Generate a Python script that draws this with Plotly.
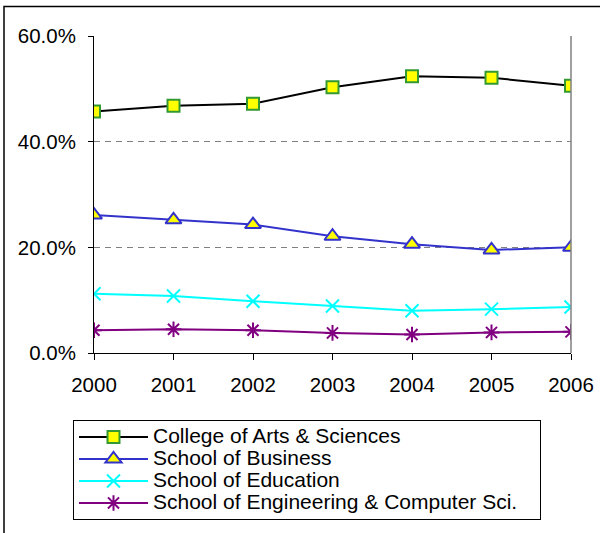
import plotly.graph_objects as go

# ── Datos ─────────────────────────────────────────────────────────────────────

YEARS = ["2000", "2001", "2002", "2003", "2004", "2005", "2006"]

ARTS_SCIENCES = [45.7, 46.8, 47.2, 50.3, 52.4, 52.1, 50.6]
BUSINESS      = [26.1, 25.2, 24.3, 22.1, 20.6, 19.5, 20.0]
EDUCATION     = [11.2, 10.8, 9.8, 8.9, 8.0, 8.3, 8.7]
ENGINEERING   = [4.3, 4.5, 4.3, 3.8, 3.5, 3.9, 4.0]

Y_TICKS = [0, 20, 40, 60]
Y_TICK_LABELS = ["0.0%", "20.0%", "40.0%", "60.0%"]

FONT = "Liberation Sans, Arial, sans-serif"
W, H = 600, 533
M_L, M_R, M_T, M_B = 94, 29, 36, 180
PLOT_W, PLOT_H = W - M_L - M_R, H - M_T - M_B


def _px_x(px: float) -> float:
    """Píxel horizontal de la página → fracción de 'paper'."""
    return (px - M_L) / PLOT_W


def _px_y(py: float) -> float:
    """Píxel vertical de la página → fracción de 'paper'."""
    return (H - M_B - py) / PLOT_H


def _legend_name(text: str, size: int = 21, pad: int = 0) -> str:
    """Texto de leyenda más grande que el interlineado de la leyenda."""
    return f'<span style="font-size:{size}px">{text}{"&nbsp;" * pad}</span>'


# ── Figura ────────────────────────────────────────────────────────────────────

series = [
    ("College of Arts & Sciences", ARTS_SCIENCES, "#000000",
     dict(symbol="square", size=12, color="#FFFF00", line=dict(color="#339933", width=2))),
    ("School of Business", BUSINESS, "#3333CC",
     dict(symbol="triangle-up", size=14, color="#FFFF00", line=dict(color="#3333CC", width=2))),
    ("School of Education", EDUCATION, "#00FFFF",
     dict(symbol="x-thin", size=13, line=dict(color="#00FFFF", width=2))),
    ("School of Engineering & Computer Sci.", ENGINEERING, "#800080",
     dict(symbol="asterisk", size=13, line=dict(color="#800080", width=2))),
]

fig = go.Figure()
for i, (name, vals, color, marker) in enumerate(series):
    fig.add_trace(go.Scatter(
        x=YEARS, y=vals,
        name=_legend_name(name, pad=3 if i == len(series) - 1 else 0),
        mode="lines+markers",
        line=dict(color=color, width=2),
        marker=marker,
        hovertemplate=f"{name}<br>%{{x}}: %{{y:.1f}}%<extra></extra>",
    ))

fig.update_layout(
    width=W, height=H,
    paper_bgcolor="white",
    plot_bgcolor="white",
    font=dict(family=FONT, size=20.5, color="black"),
    margin=dict(l=M_L, r=M_R, t=M_T, b=M_B),
    showlegend=True,
    legend=dict(
        x=_px_x(73), y=_px_y(520), xanchor="left", yanchor="bottom",
        bordercolor="black", borderwidth=1,
        font=dict(family=FONT, size=14.6, color="black"),
        tracegroupgap=0, itemwidth=69,
    ),
    xaxis=dict(
        range=[0, 6], automargin=False,
        showgrid=False, zeroline=False,
        showline=True, linecolor="black", linewidth=1,
        ticks="outside", ticklen=6, tickcolor="black",
        ticklabelstandoff=7,
        tickfont=dict(size=20.5),
    ),
    yaxis=dict(
        range=[0, 60], automargin=False,
        tickvals=Y_TICKS, ticktext=Y_TICK_LABELS,
        showgrid=True, gridcolor="#808080", griddash="6px,5px", gridwidth=1,
        zeroline=False,
        showline=True, linecolor="black", linewidth=1,
        ticks="outside", ticklen=5, tickcolor="black",
        ticklabelstandoff=8,
        tickfont=dict(size=20.5),
    ),
    shapes=[
        # borde derecho del área de trazado
        dict(type="line", xref="paper", yref="paper", x0=1, x1=1, y0=0, y1=1,
             line=dict(color="#808080", width=1.5)),
        # borde exterior del gráfico
        dict(type="rect", xref="paper", yref="paper",
             x0=_px_x(4), x1=_px_x(640), y0=_px_y(600), y1=_px_y(6.5),
             line=dict(color="black", width=1.5), layer="below"),
    ],
)

fig.write_html(
    "out.html",
    config={"displayModeBar": False},
    post_script="document.body.style.margin = '0';",
)
